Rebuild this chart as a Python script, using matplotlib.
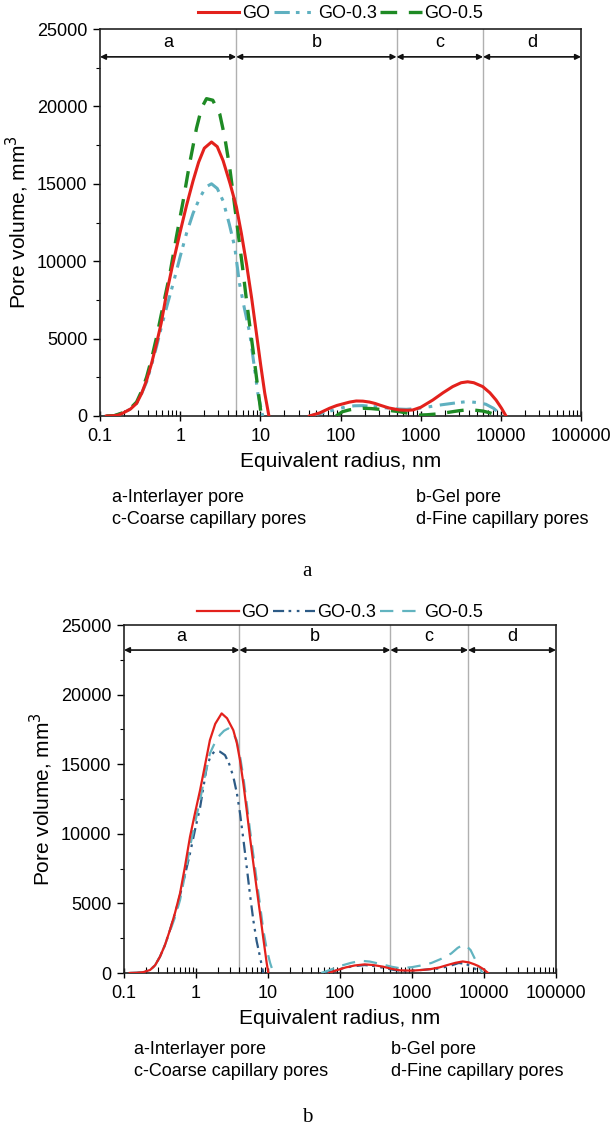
"""
Pore size distribution of GO cement pastes, two panels (a, b).
"""

import matplotlib.pyplot as plt
from matplotlib.ticker import FuncFormatter, MultipleLocator, LogLocator

plt.rcParams['font.family'] = ['Liberation Sans', 'DejaVu Sans']

# ---- panel a data ----
a_go_x1 = [0.12, 0.15, 0.17, 0.195, 0.24, 0.286, 0.33, 0.381, 0.44, 0.508,
           0.58, 0.676, 0.8, 0.99, 1.2, 1.45, 1.7, 2.0, 2.46, 2.9, 3.43,
           4.2, 5.03, 5.8, 6.71, 7.8, 8.94, 10.1, 11.35, 12.8]
a_go_y1 = [0, 20, 60, 200, 450, 815, 1450, 2300, 3400, 4700,
           6000, 7900, 9700, 11800, 13600, 15200, 16400, 17300, 17700,
           17400, 16500, 15000, 13500, 11800, 9850, 7600, 5340, 3300,
           1480, 0]
a_go_x2 = [41, 55, 73, 90, 110, 130, 157, 190, 230, 270, 307, 400, 545,
           680, 798, 1000, 1415, 1900, 2510, 3200, 3860, 4600, 5940, 7300,
           8720, 10200, 11600]
a_go_y2 = [0, 200, 500, 680, 800, 900, 970, 960, 900, 810, 710, 520, 390,
           370, 390, 560, 1030, 1500, 1900, 2150, 2210, 2150, 1900, 1500,
           1030, 500, 0]

a_go3_x1 = [0.12, 0.15, 0.195, 0.24, 0.286, 0.33, 0.381, 0.44, 0.508, 0.6,
            0.7, 0.818, 1.0, 1.2, 1.45, 1.76, 2.1, 2.46, 2.9, 3.43, 4.1,
            4.8, 5.5, 6.3, 7.38, 8.3, 9.3, 10.7]
a_go3_y1 = [0, 20, 200, 450, 815, 1450, 2200, 3300, 4500, 6000,
            7300, 8550, 10300, 11800, 13100, 14100, 14800, 15000, 14700,
            13900, 12400, 10900, 8550, 7000, 5340, 3400, 1480, 0]
a_go3_x2 = [41, 60, 85, 118, 150, 190, 270, 408, 530, 660, 900, 1290,
            1800, 2510, 3100, 3650, 4400, 5300, 6500, 8090, 9000, 10000]
a_go3_y2 = [0, 200, 400, 600, 660, 670, 600, 500, 450, 430, 480, 600,
            720, 820, 880, 920, 900, 860, 760, 500, 300, 0]

a_go5_x1 = [0.12, 0.15, 0.195, 0.24, 0.286, 0.33, 0.381, 0.44, 0.508, 0.6,
            0.745, 0.9, 1.09, 1.3, 1.6, 1.85, 2.13, 2.55, 3.12, 3.6, 4.16,
            4.7, 5.29, 6.0, 6.71, 7.4, 8.11, 9.2, 10.3]
a_go5_y1 = [0, 20, 220, 500, 900, 1600, 2500, 3700, 5100, 6900,
            9200, 11600, 13900, 16200, 18600, 19900, 20500, 20400, 19500,
            18000, 16000, 13900, 11800, 9600, 7500, 5800, 4250, 2000, 0]
a_go5_x2 = [88, 97, 106, 130, 160, 190, 240, 307, 420, 545, 700, 850, 966,
            1200, 1580, 2000, 2510, 3000, 3650, 4700, 5940, 7000, 8090,
            8800, 9300]
a_go5_y2 = [0, 150, 280, 400, 470, 500, 480, 430, 350, 280, 170, 90, 60,
            80, 130, 200, 280, 340, 390, 380, 320, 230, 130, 60, 0]

# ---- panel b data ----
b_go_x1 = [0.12, 0.15, 0.185, 0.23, 0.27, 0.316, 0.37, 0.435, 0.51, 0.6,
           0.7, 0.826, 0.97, 1.14, 1.33, 1.56, 1.85, 2.27, 2.7, 3.3, 3.7,
           4.08, 4.55, 5.06, 5.6, 6.25, 6.95, 7.74, 8.6, 9.59, 10.1]
b_go_y1 = [0, 15, 60, 215, 550, 1170, 2000, 3090, 4300, 5720,
           7600, 9790, 11500, 13140, 14900, 16730, 17900, 18650, 18300,
           17440, 16500, 15300, 13600, 11700, 9800, 7900, 6100, 4300,
           2500, 720, 0]
b_go_x2 = [70, 90, 120, 160, 220, 290, 400, 520, 681, 1000, 1400, 1860,
           2400, 3000, 4000, 5060, 6200, 7300, 8360, 9800, 11400]
b_go_y2 = [0, 200, 400, 540, 620, 570, 450, 300, 190, 170, 220, 290,
           400, 550, 730, 830, 760, 630, 500, 280, 0]

b_go3_x1 = [0.12, 0.15, 0.185, 0.23, 0.27, 0.316, 0.37, 0.435, 0.51, 0.6,
            0.7, 0.826, 0.97, 1.14, 1.41, 1.6, 1.84, 2.15, 2.53, 2.9, 3.3,
            3.7, 4.08, 4.55, 5.06, 5.6, 6.25, 6.95, 7.74, 8.6]
b_go3_y1 = [0, 15, 60, 215, 550, 1170, 2000, 3090, 4250, 5600,
            7000, 8600, 10300, 11900, 14800, 15600, 15960, 15900, 15650,
            15000, 14100, 12900, 11500, 9600, 7630, 5700, 3800, 2300,
            1170, 0]
b_go3_x2 = [63, 85, 110, 150, 220, 300, 420, 560, 775, 1100, 1600, 2390,
            3300, 4470, 5600, 6400, 7380, 8400, 9480]
b_go3_y2 = [0, 150, 350, 480, 570, 500, 350, 220, 140, 180, 250, 330,
            500, 720, 650, 520, 330, 150, 0]

b_go5_x1 = [0.12, 0.15, 0.185, 0.23, 0.27, 0.316, 0.37, 0.435, 0.51, 0.6,
            0.7, 0.826, 0.97, 1.14, 1.33, 1.56, 1.85, 2.15, 2.45, 2.81, 3.2,
            3.67, 4.08, 4.54, 5.06, 5.62, 6.25, 6.96, 7.74, 8.6, 9.6, 10.7,
            11.9]
b_go5_y1 = [0, 15, 60, 215, 550, 1170, 2000, 3000, 4000, 5240,
            7000, 9070, 10800, 12430, 14200, 15770, 16600, 17100, 17400,
            17570, 17300, 16730, 15600, 14100, 12200, 10270, 8500, 6680,
            4900, 3090, 1700, 720, 0]
b_go5_x2 = [55, 75, 100, 140, 195, 260, 400, 520, 681, 1000, 1400, 1860,
            2500, 3500, 4300, 5060, 5800, 6510, 7500, 8500, 9480]
b_go5_y2 = [0, 250, 500, 720, 880, 820, 600, 450, 340, 420, 560, 720,
            1000, 1400, 1800, 2010, 1900, 1650, 1000, 500, 0]

# region borders (nm) and labels
a_bounds = [0.1, 5, 500, 6000, 100000]
b_bounds = [0.1, 4, 500, 6000, 100000]
region_labels = ['a', 'b', 'c', 'd']
notes = ['a-Interlayer pore', 'b-Gel pore',
         'c-Coarse capillary pores', 'd-Fine capillary pores']

W, H = 615, 1131


def box(l, t, r, b):
    """Pixel box to figure fraction rect."""
    return [l / W, 1 - b / H, (r - l) / W, (b - t) / H]


def style_axes(ax, bounds):
    ax.set_xscale('log')
    ax.set_xlim(0.1, 100000)
    ax.set_ylim(0, 25000)
    ax.xaxis.set_major_locator(LogLocator(base=10, numticks=10))
    ax.xaxis.set_minor_locator(LogLocator(base=10, subs=range(2, 10),
                                          numticks=10))
    ax.xaxis.set_major_formatter(FuncFormatter(lambda v, p: f'{v:g}'))
    ax.yaxis.set_major_locator(MultipleLocator(5000))
    ax.yaxis.set_minor_locator(MultipleLocator(2500))
    ax.tick_params(axis='x', which='major', direction='inout', length=7,
                   width=1, labelsize=13, pad=5)
    ax.tick_params(axis='x', which='minor', direction='in', length=4,
                   width=0.8)
    ax.tick_params(axis='y', which='major', direction='out', length=5,
                   width=1, labelsize=13, pad=4)
    ax.tick_params(axis='y', which='minor', direction='out', length=3,
                   width=0.8)
    for s in ax.spines.values():
        s.set_linewidth(1.2)
        s.set_color('#222222')
    ax.set_xlabel('Equivalent radius, nm', fontsize=15, labelpad=5)
    ax.set_ylabel('Pore volume, mm$^3$', fontsize=15, labelpad=4)

    # region separators, arrows and letters
    for v in bounds[1:-1]:
        ax.axvline(v, color='#b0b0b0', lw=1, zorder=1)
    for i in range(4):
        x0, x1 = bounds[i], bounds[i + 1]
        ax.annotate('', xy=(x1, 23200), xytext=(x0, 23200),
                    arrowprops=dict(arrowstyle='<|-|>', color='#111111',
                                    lw=1.2, mutation_scale=8,
                                    shrinkA=0, shrinkB=0))
        xm = (x0 * x1) ** 0.5
        ax.text(xm, 24150, region_labels[i], ha='center', va='center',
                fontsize=13)


def add_legend(ax, y):
    ax.legend(loc='center', bbox_to_anchor=(0.5, y), ncol=3,
              frameon=False, fontsize=13, handlelength=2.3,
              handletextpad=0.15, columnspacing=0.2, borderpad=0.0,
              borderaxespad=0.0)


fig = plt.figure(figsize=(W / 100, H / 100), dpi=100)

red = '#e3211c'
teal = '#5fb0c0'
green = '#1e8a24'
navy = '#2d5b86'
lteal = '#62b4c0'
dd = (0, (5, 2, 1.2, 2.5, 1.2, 2.5))

# ---- panel a ----
ax1 = fig.add_axes(box(100, 29, 581, 416))
style_axes(ax1, a_bounds)
ax1.plot(a_go_x1, a_go_y1, color=red, lw=2.2, label='GO', zorder=4)
ax1.plot(a_go_x2, a_go_y2, color=red, lw=2.2, zorder=4)
ax1.plot(a_go3_x1, a_go3_y1, color=teal, lw=2.2, ls=dd, label='GO-0.3',
         zorder=3)
ax1.plot(a_go3_x2, a_go3_y2, color=teal, lw=2.2, ls=dd, zorder=3)
ax1.plot(a_go5_x1, a_go5_y1, color=green, lw=2.4, ls=(0, (5, 3.5)),
         label='GO-0.5', zorder=3)
ax1.plot(a_go5_x2, a_go5_y2, color=green, lw=2.4, ls=(0, (5, 3.5)),
         zorder=3)
add_legend(ax1, 1.039)

# ---- panel b ----
ax2 = fig.add_axes(box(124, 625, 556, 973))
style_axes(ax2, b_bounds)
ax2.plot(b_go_x1, b_go_y1, color=red, lw=1.6, label='GO', zorder=4)
ax2.plot(b_go_x2, b_go_y2, color=red, lw=1.6, zorder=4)
ax2.plot(b_go3_x1, b_go3_y1, color=navy, lw=1.6, ls=dd, label='GO-0.3',
         zorder=3)
ax2.plot(b_go3_x2, b_go3_y2, color=navy, lw=1.6, ls=dd, zorder=3)
ax2.plot(b_go5_x1, b_go5_y1, color=lteal, lw=1.6, ls=(0, (6, 4)),
         label='GO-0.5', zorder=3)
ax2.plot(b_go5_x2, b_go5_y2, color=lteal, lw=1.6, ls=(0, (6, 4)),
         zorder=3)
add_legend(ax2, 1.035)

# ---- notes and captions ----
fig.text(112 / W, 1 - 497 / H, notes[0], fontsize=13, va='center')
fig.text(416 / W, 1 - 497 / H, notes[1], fontsize=13, va='center')
fig.text(112 / W, 1 - 519 / H, notes[2], fontsize=13, va='center')
fig.text(416 / W, 1 - 519 / H, notes[3], fontsize=13, va='center')
fig.text(307 / W, 1 - 572 / H, 'a', fontsize=15, ha='center', va='center',
         family='Liberation Serif')

fig.text(134 / W, 1 - 1049 / H, notes[0], fontsize=13, va='center')
fig.text(391 / W, 1 - 1049 / H, notes[1], fontsize=13, va='center')
fig.text(134 / W, 1 - 1072 / H, notes[2], fontsize=13, va='center')
fig.text(391 / W, 1 - 1072 / H, notes[3], fontsize=13, va='center')
fig.text(307 / W, 1 - 1117 / H, 'b', fontsize=15, ha='center', va='center',
         family='Liberation Serif')

fig.savefig('out.png', dpi=100)
